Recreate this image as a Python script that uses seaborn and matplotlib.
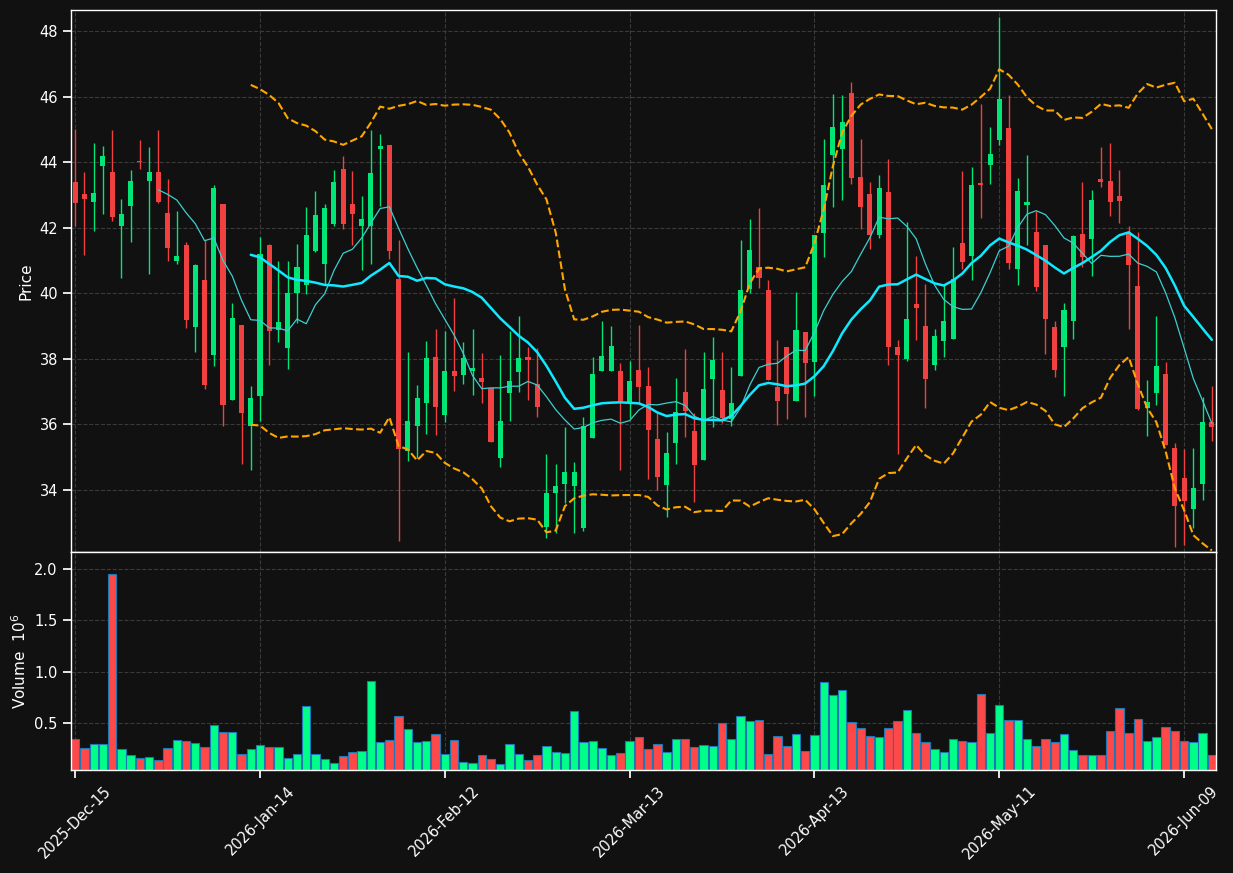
import numpy as np
import pandas as pd
import matplotlib
matplotlib.use('Agg')
import matplotlib.pyplot as plt
import seaborn as sns

# trading days (NYSE holidays skipped)
holidays = ['2025-12-25', '2026-01-01', '2026-01-19', '2026-02-16', '2026-04-03', '2026-05-25']
dates = pd.bdate_range('2025-12-15', periods=124, freq='C', holidays=holidays)

opens = [43.41, 43.04, 42.79, 43.87, 43.69, 42.05, 42.66, 44.03, 43.42, 43.69,
         42.44, 40.99, 41.47, 38.98, 40.40, 38.13, 42.71, 36.76, 39.04, 35.94,
         36.88, 41.47, 38.89, 38.32, 40.02, 40.26, 41.30, 40.90, 42.11, 43.80,
         42.71, 42.04, 42.06, 44.40, 44.51, 40.43, 35.19, 35.94, 36.64, 38.06,
         36.28, 37.63, 37.52, 37.62, 37.42, 37.11, 34.97, 36.97, 37.59, 38.06,
         37.24, 32.87, 33.91, 34.17, 34.13, 32.83, 35.58, 37.62, 37.62, 37.63,
         36.69, 37.65, 37.18, 35.57, 34.15, 35.42, 37.00, 35.81, 34.93, 37.40,
         37.06, 36.16, 37.47, 40.14, 40.79, 40.10, 37.14, 38.36, 36.73, 38.82,
         37.90, 41.84, 44.22, 44.40, 46.12, 43.54, 43.02, 41.77, 43.08, 38.36,
         38.00, 39.67, 39.00, 37.80, 38.56, 38.61, 41.53, 41.14, 43.36, 43.90,
         44.67, 45.05, 40.75, 42.69, 41.87, 41.47, 38.97, 38.37, 39.16, 41.81,
         41.66, 43.48, 43.44, 42.96, 41.88, 40.22, 36.50, 36.97, 37.55, 35.29,
         34.38, 33.41, 34.17, 36.06]
highs = [45.00, 43.71, 44.59, 44.50, 44.99, 42.88, 43.77, 44.68, 44.47, 44.99,
         43.50, 42.51, 41.55, 40.90, 41.64, 43.29, 42.71, 39.69, 39.04, 37.16,
         41.72, 41.50, 40.98, 40.98, 41.50, 42.64, 43.13, 42.71, 43.77, 44.19,
         43.74, 42.98, 44.99, 44.87, 44.51, 41.62, 38.20, 37.19, 38.54, 38.91,
         38.84, 39.85, 38.52, 38.91, 38.17, 37.11, 38.11, 38.84, 39.31, 38.36,
         38.34, 35.11, 34.78, 35.92, 34.87, 36.23, 38.06, 39.17, 38.99, 37.88,
         37.93, 39.02, 37.75, 36.36, 35.78, 37.41, 38.30, 36.35, 38.20, 38.68,
         38.20, 37.75, 41.62, 42.27, 42.61, 40.42, 38.59, 38.36, 40.03, 38.82,
         41.77, 44.71, 46.08, 46.05, 46.45, 44.71, 43.40, 43.61, 44.10, 38.59,
         42.19, 41.13, 40.29, 38.91, 40.29, 41.42, 43.74, 43.86, 45.76, 45.07,
         48.42, 46.05, 43.53, 44.23, 42.50, 41.47, 39.17, 39.70, 41.79, 43.41,
         43.16, 44.47, 44.59, 43.77, 42.06, 41.88, 37.35, 39.32, 37.92, 35.43,
         35.26, 35.28, 36.84, 37.18]
lows = [42.04, 41.18, 41.91, 42.42, 42.22, 40.47, 41.57, 43.80, 40.58, 42.75,
        41.00, 40.90, 38.93, 38.20, 37.08, 37.78, 35.95, 36.76, 34.80, 34.62,
        36.10, 37.81, 38.50, 37.69, 39.10, 39.97, 41.25, 40.26, 42.06, 41.97,
        41.48, 40.71, 40.88, 42.66, 41.05, 32.46, 34.88, 34.97, 35.72, 35.67,
        36.07, 37.02, 37.23, 36.91, 36.65, 35.45, 34.70, 36.11, 36.99, 36.74,
        36.22, 32.55, 32.70, 33.61, 32.70, 32.76, 35.58, 37.62, 37.62, 34.62,
        36.19, 36.62, 34.34, 34.00, 33.18, 34.80, 35.63, 33.63, 34.93, 35.93,
        36.03, 35.96, 37.47, 40.00, 40.16, 37.37, 35.99, 36.16, 36.73, 36.22,
        36.88, 41.10, 42.62, 42.85, 43.33, 41.97, 41.34, 41.70, 37.81, 35.10,
        37.94, 38.57, 36.51, 37.65, 38.05, 38.61, 40.74, 40.42, 42.30, 43.34,
        44.51, 40.74, 40.24, 41.48, 40.07, 38.15, 37.46, 36.88, 38.62, 40.79,
        40.52, 43.24, 42.37, 42.13, 38.91, 36.44, 35.64, 36.59, 35.37, 32.25,
        32.31, 32.83, 33.71, 35.51]
closes = [42.76, 42.87, 43.07, 44.20, 42.34, 42.41, 43.44, 44.00, 43.69, 42.79,
          41.38, 41.13, 39.19, 40.85, 37.19, 43.20, 36.58, 39.25, 36.34, 36.82,
          41.19, 38.84, 39.12, 40.01, 40.80, 41.77, 42.38, 42.59, 43.41, 42.11,
          42.41, 42.26, 43.66, 44.48, 41.30, 35.24, 36.12, 36.82, 38.03, 36.52,
          37.63, 37.49, 38.03, 37.73, 37.31, 35.48, 36.12, 37.33, 38.03, 37.98,
          36.52, 33.92, 34.11, 34.56, 34.56, 35.94, 37.55, 38.09, 38.39, 36.73,
          37.33, 37.15, 35.82, 34.40, 35.12, 36.38, 36.42, 34.75, 37.09, 37.97,
          36.21, 36.66, 40.10, 41.32, 40.47, 37.37, 36.73, 36.94, 38.88, 37.86,
          41.77, 43.30, 45.07, 45.23, 43.51, 42.63, 41.78, 43.20, 38.36, 38.12,
          39.21, 39.56, 37.40, 38.70, 39.15, 40.44, 40.96, 43.30, 43.31, 44.24,
          45.94, 40.93, 43.11, 42.78, 40.19, 39.23, 37.67, 39.49, 41.74, 41.11,
          42.86, 43.41, 42.79, 42.81, 40.86, 36.46, 36.69, 37.79, 35.37, 33.50,
          33.66, 34.05, 36.06, 35.91]
# volume in millions of shares
volumes = [0.341, 0.256, 0.295, 0.295, 1.951, 0.244, 0.185, 0.159, 0.166, 0.140,
           0.256, 0.331, 0.321, 0.302, 0.263, 0.481, 0.409, 0.409, 0.198, 0.244,
           0.282, 0.263, 0.263, 0.156, 0.195, 0.666, 0.195, 0.146, 0.107, 0.179,
           0.218, 0.227, 0.909, 0.315, 0.334, 0.568, 0.438, 0.315, 0.325, 0.393,
           0.195, 0.334, 0.120, 0.107, 0.188, 0.149, 0.101, 0.295, 0.198, 0.140,
           0.188, 0.276, 0.218, 0.208, 0.620, 0.315, 0.325, 0.256, 0.188, 0.208,
           0.325, 0.364, 0.247, 0.295, 0.218, 0.344, 0.344, 0.266, 0.286, 0.276,
           0.500, 0.344, 0.568, 0.519, 0.529, 0.198, 0.377, 0.276, 0.396, 0.227,
           0.383, 0.899, 0.773, 0.821, 0.510, 0.451, 0.373, 0.364, 0.451, 0.519,
           0.627, 0.403, 0.315, 0.247, 0.218, 0.344, 0.325, 0.315, 0.782, 0.403,
           0.675, 0.529, 0.529, 0.344, 0.276, 0.344, 0.315, 0.393, 0.237, 0.188,
           0.188, 0.188, 0.422, 0.646, 0.403, 0.539, 0.325, 0.364, 0.461, 0.422,
           0.325, 0.315, 0.403, 0.188]

UP, DOWN = '#00e676', '#f04040'
VUP, VDOWN = '#00ff88', '#ff4848'
BG = '#111111'

df = pd.DataFrame({'o': opens, 'h': highs, 'l': lows, 'c': closes, 'v': volumes})
df['i'] = np.arange(len(df))
df['dir'] = np.where(df.c >= df.o, 'up', 'down')
df['ma10'] = df.c.rolling(10).mean()
df['ma20'] = df.c.rolling(20).mean()
sd = df.c.rolling(20).std(ddof=0)
df['bb_up'] = df.ma20 + 2 * sd
df['bb_lo'] = df.ma20 - 2 * sd

sns.set_theme(style='darkgrid', context='notebook', rc={
    'figure.facecolor': BG, 'axes.facecolor': BG, 'savefig.facecolor': BG,
    'axes.edgecolor': 'white', 'axes.labelcolor': 'white', 'text.color': 'white',
    'xtick.color': 'white', 'ytick.color': 'white',
    'xtick.bottom': True, 'ytick.left': True,
    'grid.color': '#3a3a3a', 'grid.linestyle': '--', 'grid.linewidth': 0.8,
    'axes.linewidth': 1.0, 'xtick.labelsize': 10.5, 'ytick.labelsize': 10.5,
    'axes.labelsize': 11,
})

fig = plt.figure(figsize=(12.33, 8.73), dpi=100)
ax1 = fig.add_axes([0.0576, 0.3677, 0.9286, 0.6208])
ax2 = fig.add_axes([0.0576, 0.1180, 0.9286, 0.2497], sharex=ax1)

# candles
col = np.where(df.dir == 'up', UP, DOWN)
ax1.vlines(df.i, df.l, df.h, colors=col, linewidth=1.0, zorder=3)
body = np.maximum((df.c - df.o).abs(), 0.05)
ax1.bar(df.i, body, bottom=np.minimum(df.o, df.c), width=0.55, color=col,
        edgecolor=col, linewidth=0, zorder=4)

sns.lineplot(data=df, x='i', y='ma10', ax=ax1, color='#3ccfcf', linewidth=0.9, zorder=5)
sns.lineplot(data=df, x='i', y='ma20', ax=ax1, color='#10e8ff', linewidth=1.8, zorder=5)
sns.lineplot(data=df, x='i', y='bb_up', ax=ax1, color='#ffa500', linewidth=1.5, linestyle='--', zorder=5)
sns.lineplot(data=df, x='i', y='bb_lo', ax=ax1, color='#ffa500', linewidth=1.5, linestyle='--', zorder=5)

ax1.set_ylim(32.11, 48.64)
ax1.set_yticks(np.arange(34, 48.1, 2))
ax1.set_ylabel('Price')
ax1.set_xlabel('')
ax1.tick_params(axis='x', labelbottom=False, length=0)

sns.barplot(data=df, x='i', y='v', hue='dir', palette={'up': VUP, 'down': VDOWN},
            native_scale=True, dodge=False, width=0.9, saturation=1, errorbar=None,
            edgecolor='#1f77b4', linewidth=0.8, legend=False, ax=ax2)
ax2.set_ylim(0.042, 2.166)
ax2.set_yticks([0.5, 1.0, 1.5, 2.0])
ax2.set_ylabel('Volume  $10^6$')
ax2.set_xlabel('')

ticks = list(range(0, len(df), 20))
ax2.set_xticks(ticks)
ax2.set_xticklabels([dates[t].strftime('%Y-%b-%d') for t in ticks], rotation=45)
ax2.set_xlim(-0.45, len(df) - 0.55)

for ax in (ax1, ax2):
    ax.grid(True, color='#3a3a3a', linestyle='--', linewidth=0.8)
    for s in ax.spines.values():
        s.set_color('white')
        s.set_visible(True)

fig.savefig('out.png', dpi=100, facecolor=BG)
